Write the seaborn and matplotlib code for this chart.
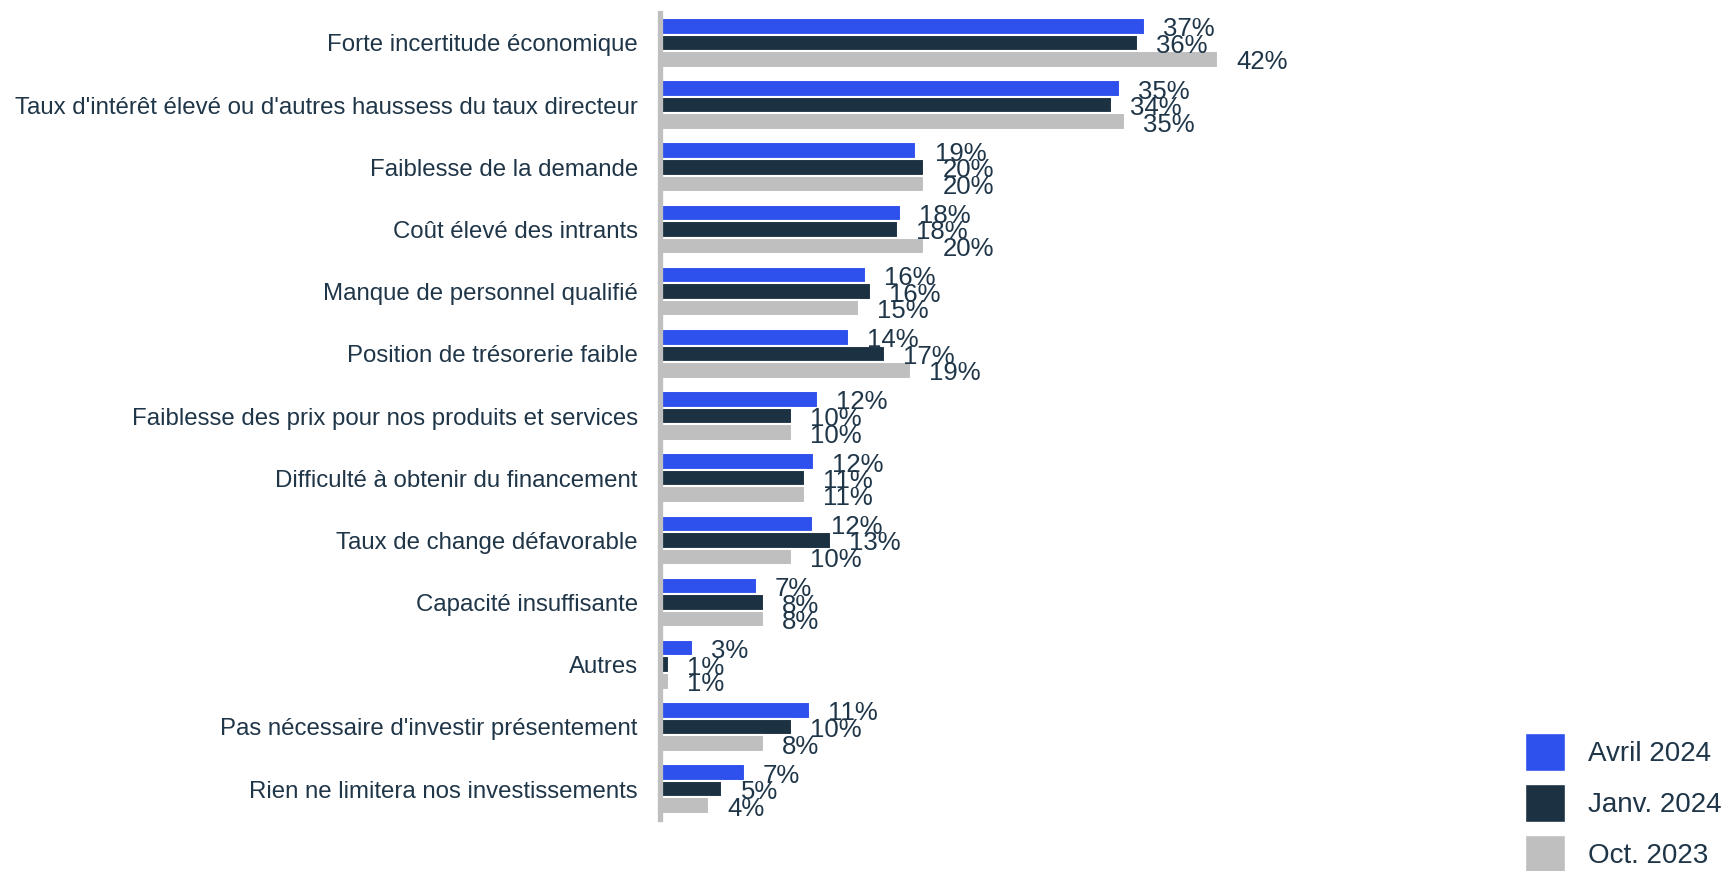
import matplotlib
matplotlib.use("Agg")
import matplotlib.pyplot as plt
import seaborn as sns
import pandas as pd
from matplotlib.patches import Patch

categories = [
    "Forte incertitude économique",
    "Taux d'intérêt élevé ou d'autres haussess du taux directeur",
    "Faiblesse de la demande",
    "Coût élevé des intrants",
    "Manque de personnel qualifié",
    "Position de trésorerie faible",
    "Faiblesse des prix pour nos produits et services",
    "Difficulté à obtenir du financement",
    "Taux de change défavorable",
    "Capacité insuffisante",
    "Autres",
    "Pas nécessaire d'investir présentement",
    "Rien ne limitera nos investissements",
]
periods = ["Avril 2024", "Janv. 2024", "Oct. 2023"]

avril_2024 = [36.5, 34.6, 19.3, 18.1, 15.5, 14.2, 11.9, 11.6, 11.5, 7.3, 2.5, 11.3, 6.4]
janv_2024 = [36.0, 34.0, 19.9, 17.9, 15.9, 16.9, 9.9, 10.9, 12.9, 7.8, 0.7, 9.9, 4.7]
oct_2023 = [42.0, 35.0, 19.9, 19.9, 15.0, 18.9, 9.9, 10.9, 9.9, 7.8, 0.7, 7.8, 3.7]

labels_avril = ["37%", "35%", "19%", "18%", "16%", "14%", "12%", "12%", "12%", "7%", "3%", "11%", "7%"]
labels_janv = ["36%", "34%", "20%", "18%", "16%", "17%", "10%", "11%", "13%", "8%", "1%", "10%", "5%"]
labels_oct = ["42%", "35%", "20%", "20%", "15%", "19%", "10%", "11%", "10%", "8%", "1%", "8%", "4%"]

colors = ["#2E50EC", "#1C3142", "#BFBFBF"]
text_color = "#1F3548"

sns.set_theme(style="white")
plt.rcParams["font.family"] = ["Liberation Sans", "DejaVu Sans"]

df = pd.DataFrame({
    "cat": categories * 3,
    "val": avril_2024 + janv_2024 + oct_2023,
    "period": [periods[0]] * 13 + [periods[1]] * 13 + [periods[2]] * 13,
})

W, H = 1727, 871
fig = plt.figure(figsize=(W / 100, H / 100), dpi=100)
ax_left, ax_right = 660, 1500
ax_top, ax_bot = 13, 819
ax = fig.add_axes([ax_left / W, 1 - ax_bot / H, (ax_right - ax_left) / W, (ax_bot - ax_top) / H])

sns.barplot(data=df, y="cat", x="val", hue="period", hue_order=periods, order=categories,
            orient="h", palette=colors, saturation=1, width=0.8, edgecolor="white",
            linewidth=1.5, legend=False, ax=ax, errorbar=None)

px_per_unit = 13.29
ax.set_xlim(0, (ax_right - ax_left) / px_per_unit)
ax.set_ylim(12.48, -0.48)

for cont, labs in zip(ax.containers, [labels_avril, labels_janv, labels_oct]):
    for bar, lab in zip(cont, labs):
        ax.annotate(lab, (bar.get_width(), bar.get_y() + bar.get_height() / 2),
                    xytext=(13, -2.2), textcoords="offset points",
                    ha="left", va="center", fontsize=18.5, color=text_color)

ax.set_xlabel("")
ax.set_ylabel("")
ax.set_xticks([])
for s in ["top", "right", "bottom"]:
    ax.spines[s].set_visible(False)
ax.spines["left"].set_color("#BFBFBF")
ax.spines["left"].set_linewidth(3.8)
ax.tick_params(axis="y", length=0, pad=16, labelsize=17.3, labelcolor=text_color)

handles = [Patch(facecolor=c, edgecolor="white", linewidth=1) for c in colors]
fig.legend(handles, periods, loc="upper left", bbox_to_anchor=(1525 / W, 1 - 733 / H),
           frameon=False, fontsize=20, handlelength=1.45, handleheight=1.75,
           handletextpad=0.8, labelspacing=0.45, borderpad=0, borderaxespad=0,
           labelcolor=text_color)

fig.savefig("out.png", dpi=100)
